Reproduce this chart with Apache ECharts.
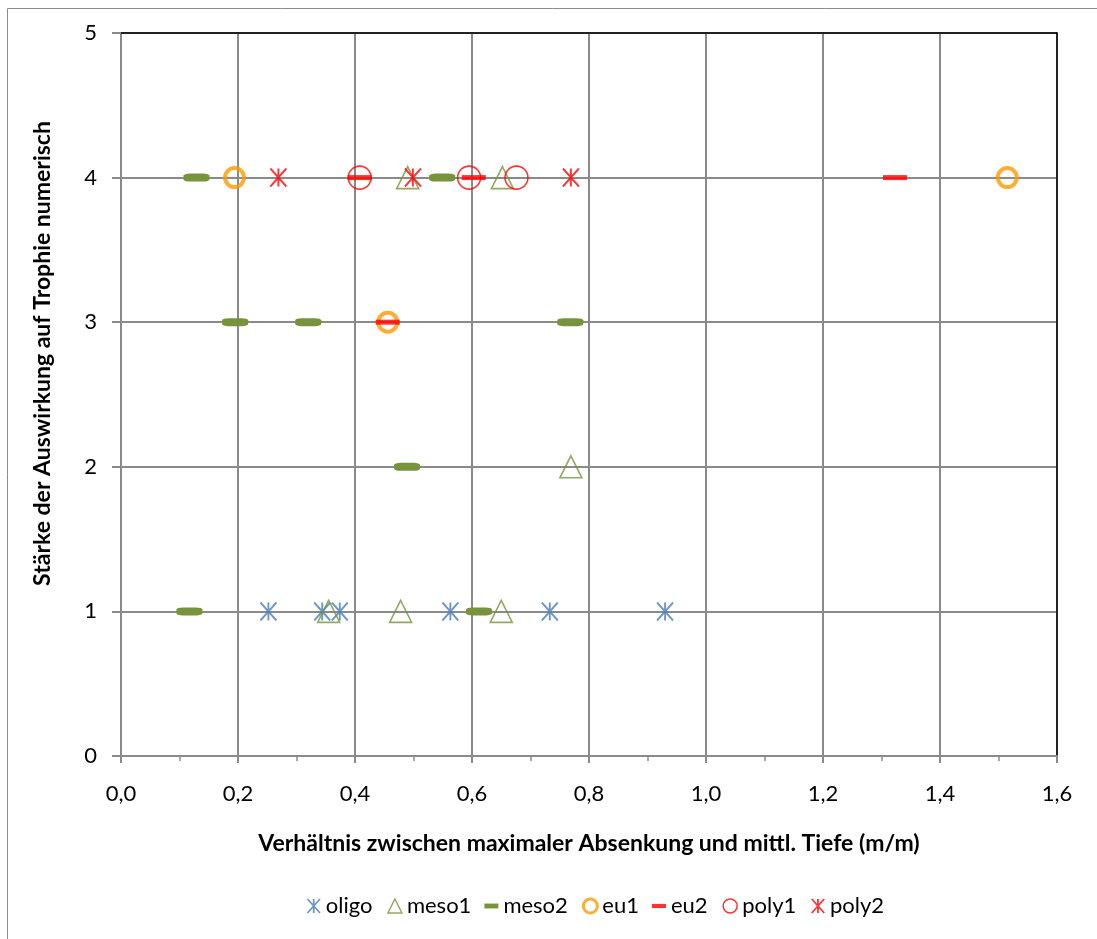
<!DOCTYPE html>
<html>
<head>
<meta charset="utf-8">
<script src="https://cdn.jsdelivr.net/npm/echarts@6/dist/echarts.min.js"></script>
<style>html,body{margin:0;padding:0;background:#fff;}#c{width:1097px;height:939px;}</style>
</head>
<body>
<div id="c"></div>
<script>
// ---- data ----
var seriesNames = ['oligo', 'meso1', 'meso2', 'eu1', 'eu2', 'poly1', 'poly2'];
var oligo = [[0.252, 1], [0.344, 1], [0.374, 1], [0.563, 1], [0.733, 1], [0.930, 1]];
var meso1 = [[0.355, 1], [0.478, 1], [0.650, 1], [0.769, 2], [0.490, 4], [0.652, 4]];
var meso2 = [[0.117, 1], [0.612, 1], [0.489, 2], [0.195, 3], [0.320, 3], [0.768, 3], [0.129, 4], [0.549, 4]];
var eu1 = [[0.456, 3], [0.194, 4], [1.515, 4]];
var eu2 = [[0.456, 3], [0.408, 4], [0.603, 4], [1.323, 4]];
var poly1 = [[0.408, 4], [0.595, 4], [0.676, 4]];
var poly2 = [[0.269, 4], [0.499, 4], [0.769, 4]];
var xTitle = 'Verhältnis zwischen maximaler Absenkung und mittl. Tiefe (m/m)';
var yTitle = 'Stärke der Auswirkung auf Trophie numerisch';

var FONT = 'Lato';
var STAR = 'path://M0,0L16,18M16,0L0,18M8,0L8,18';
var GRID_C = '#8a8a8a';

var chart = echarts.init(document.getElementById('c'));
var option = {
  backgroundColor: '#fff',
  animation: false,
  graphic: [{
    type: 'rect', shape: {x: 7.5, y: 8.5, width: 1200, height: 1100},
    style: {fill: 'none', stroke: '#8c8c8c', lineWidth: 1}, z: -10, silent: true
  }],
  grid: {left: 121, right: 40, top: 33, bottom: 183, containLabel: false},
  legend: {
    bottom: 17, left: 300, itemGap: 13, itemWidth: 14, itemHeight: 14,
    textStyle: {fontFamily: FONT, fontSize: 22, color: '#000'},
    data: [
      {name: 'oligo', icon: STAR, itemStyle: {color: 'none', borderColor: '#4A7EBB', borderWidth: 1.8}},
      {name: 'meso1', icon: 'triangle', itemStyle: {color: 'none', borderColor: '#77933C', borderWidth: 1.5}},
      {name: 'meso2', icon: 'path://M0,0L20,0L20,7L0,7Z', itemStyle: {color: '#77933C', borderWidth: 0}},
      {name: 'eu1', icon: 'circle', itemStyle: {color: 'none', borderColor: '#FF9900', borderWidth: 3}},
      {name: 'eu2', icon: 'path://M0,0L20,0L20,6L0,6Z', itemStyle: {color: '#FF0000', borderWidth: 0}},
      {name: 'poly1', icon: 'circle', itemStyle: {color: 'none', borderColor: '#FF0000', borderWidth: 1.5}},
      {name: 'poly2', icon: STAR, itemStyle: {color: 'none', borderColor: '#FF0000', borderWidth: 1.8}}
    ]
  },
  xAxis: [{
    type: 'value', min: 0, max: 1.6, interval: 0.2,
    axisLine: {show: true, onZero: false, lineStyle: {color: GRID_C, width: 2}},
    axisTick: {show: true, length: 7, lineStyle: {color: GRID_C, width: 2}},
    minorTick: {show: true, splitNumber: 2, length: 5, lineStyle: {color: GRID_C, width: 1.5}},
    splitLine: {show: true, lineStyle: {color: GRID_C, width: 2}},
    axisLabel: {
      margin: 27, fontFamily: FONT, fontSize: 22, color: '#000',
      formatter: function (v) { return v.toFixed(1).replace('.', ','); }
    },
    name: xTitle, nameLocation: 'middle', nameGap: 76,
    nameTextStyle: {fontFamily: FONT, fontSize: 23, fontWeight: 'bold', color: '#000'}
  }, {
    type: 'value', min: 0, max: 1.6, interval: 0.2, position: 'top',
    axisLine: {show: true, onZero: false, lineStyle: {color: '#000', width: 1.5}},
    axisTick: {show: false}, axisLabel: {show: false}, splitLine: {show: false}
  }],
  yAxis: [{
    type: 'value', min: 0, max: 5, interval: 1,
    axisLine: {show: true, onZero: false, lineStyle: {color: GRID_C, width: 2}},
    axisTick: {show: true, length: 9, lineStyle: {color: GRID_C, width: 2}},
    splitLine: {show: true, lineStyle: {color: GRID_C, width: 2}},
    axisLabel: {margin: 24, fontFamily: FONT, fontSize: 22, color: '#000'},
    name: yTitle, nameLocation: 'middle', nameGap: 67, nameRotate: 90,
    nameTextStyle: {fontFamily: FONT, fontSize: 23, fontWeight: 'bold', color: '#000', padding: [0, 0, 0, 82]}
  }, {
    type: 'value', min: 0, max: 5, interval: 1, position: 'right',
    axisLine: {show: true, onZero: false, lineStyle: {color: '#000', width: 1.5}},
    axisTick: {show: false}, axisLabel: {show: false}, splitLine: {show: false}
  }],
  series: [
    {name: 'oligo', type: 'scatter', z: 5, data: oligo, symbol: STAR, symbolSize: [16, 18],
      itemStyle: {color: 'none', borderColor: '#4A7EBB', borderWidth: 2}},
    {name: 'meso1', type: 'scatter', z: 5, data: meso1, symbol: 'triangle', symbolSize: [22, 22],
      itemStyle: {color: 'none', borderColor: '#77933C', borderWidth: 1.6}},
    {name: 'meso2', type: 'scatter', z: 5, data: meso2, symbol: 'roundRect', symbolSize: [26, 8],
      itemStyle: {color: '#77933C', borderWidth: 0, opacity: 1}},
    {name: 'eu1', type: 'scatter', z: 5, data: eu1, symbol: 'circle', symbolSize: 19,
      itemStyle: {color: 'none', borderColor: '#FF9900', borderWidth: 4}},
    {name: 'eu2', type: 'scatter', z: 5, data: eu2, symbol: 'rect', symbolSize: [24, 5],
      itemStyle: {color: '#FF0000', borderWidth: 0}},
    {name: 'poly1', type: 'scatter', z: 5, data: poly1, symbol: 'circle', symbolSize: 23,
      itemStyle: {color: 'none', borderColor: '#FF0000', borderWidth: 1.6}},
    {name: 'poly2', type: 'scatter', z: 5, data: poly2, symbol: STAR, symbolSize: [16, 18],
      itemStyle: {color: 'none', borderColor: '#FF0000', borderWidth: 2}}
  ]
};
chart.setOption(option);
</script>
</body>
</html>
